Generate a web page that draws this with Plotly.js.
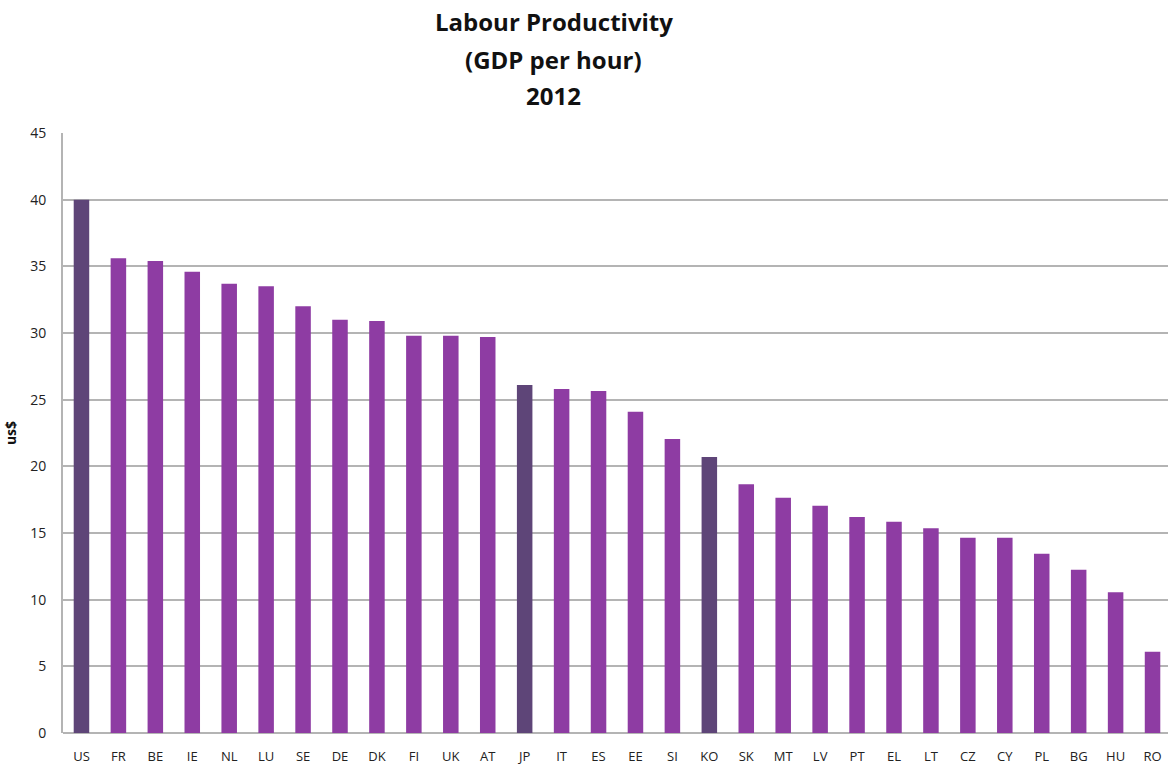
<!DOCTYPE html>
<html><head><meta charset="utf-8">
<script src="https://cdn.plot.ly/plotly-3.0.1.min.js"></script>
<style>html,body{margin:0;padding:0;overflow:hidden;background:#fff;}</style>
</head><body><div id="chart"></div>
<script>
const countries = ["US","FR","BE","IE","NL","LU","SE","DE","DK","FI","UK","AT","JP","IT","ES","EE","SI","KO","SK","MT","LV","PT","EL","LT","CZ","CY","PL","BG","HU","RO"];
const productivity = [40.0,35.6,35.4,34.6,33.7,33.5,32.0,31.0,30.9,29.8,29.8,29.7,26.1,25.8,25.65,24.1,22.05,20.7,18.65,17.65,17.05,16.2,15.85,15.35,14.65,14.65,13.45,12.25,10.55,6.1];
const highlighted = ["US","JP","KO"];
const titleLines = ["Labour Productivity","(GDP per hour)","2012"];
const colors = countries.map(c => highlighted.includes(c) ? "#5E4578" : "#8E3CA3");

const trace = {
  type: "bar",
  x: countries,
  y: productivity,
  marker: {color: colors, line: {width: 0}},
  hoverinfo: "x+y"
};
const titleY = [1.185, 1.122, 1.063];
const annotations = titleLines.map((t, i) => ({
  text: "<b>" + t + "</b>",
  xref: "paper", yref: "paper",
  x: 0.443, y: titleY[i],
  xanchor: "center", yanchor: "middle",
  showarrow: false,
  font: {size: 24, family: "Open Sans, sans-serif", color: "#111"}
}));
const layout = {
  width: 1173, height: 764,
  margin: {l: 63, r: 2, t: 133, b: 31},
  paper_bgcolor: "#fff", plot_bgcolor: "#fff",
  bargap: 0.58,
  showlegend: false,
  font: {family: "Open Sans, Liberation Sans, sans-serif", color: "#222"},
  annotations: annotations,
  xaxis: {
    type: "category",
    showgrid: false, zeroline: false,
    showline: false,
    ticks: "", ticklen: 0,
    ticklabelstandoff: 14,
    tickfont: {size: 13, color: "#222"},
    automargin: false
  },
  yaxis: {
    range: [0, 45], dtick: 5,
    showgrid: true, gridcolor: "#B4B4B4", gridwidth: 2,
    zeroline: true, zerolinecolor: "#B4B4B4", zerolinewidth: 2,
    showline: true, linecolor: "#B4B4B4", linewidth: 2,
    ticks: "", ticklabelstandoff: 12,
    tickfont: {size: 14, color: "#222"},
    title: {text: "<b>us$</b>", font: {size: 14, color: "#111"}, standoff: 10},
    automargin: false
  }
};
Plotly.newPlot("chart", [trace], layout, {displayModeBar: false, staticPlot: true});
</script></body></html>
